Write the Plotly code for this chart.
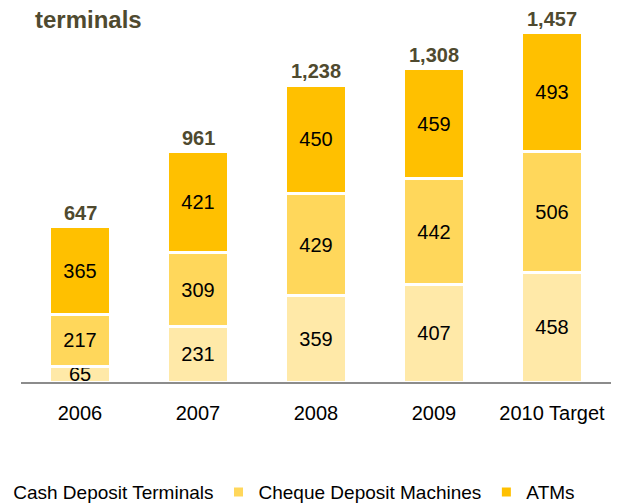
import plotly.graph_objects as go

# terminals by type, per year
years = ['2006', '2007', '2008', '2009', '2010 Target']
cash_deposit = [65, 231, 359, 407, 458]
cheque_deposit = [217, 309, 429, 442, 506]
atms = [365, 421, 450, 459, 493]
totals = [647, 961, 1238, 1308, 1457]

series = [
    ('Cash Deposit Terminals', cash_deposit, '#FFE9A8'),
    ('Cheque Deposit Machines', cheque_deposit, '#FFD75B'),
    ('ATMs', atms, '#FFC000'),
]

FONT = 'Liberation Sans, Arial, sans-serif'
DARK = '#4F4A2F'

# page body has an 8px margin, so the figure is 8px smaller each way
W, H = 616, 495

fig = go.Figure()

for name, vals, color in series:
    fig.add_trace(go.Bar(
        x=years, y=vals, name=name,
        marker=dict(color=color, line=dict(color='white', width=3)),
        text=vals, textposition='inside', insidetextanchor='middle',
        constraintext='none', cliponaxis=False,
        textfont=dict(family=FONT, size=20, color='black'),
    ))

# totals above each stack (x given as category index)
for i, tot in enumerate(totals):
    fig.add_annotation(
        x=i, y=tot, text=f'<b>{tot:,}</b>', showarrow=False,
        yanchor='bottom', yshift=1,
        font=dict(family=FONT, size=20, color=DARK),
    )

fig.update_layout(
    barmode='stack', bargap=0.49,
    width=W, height=H,
    margin=dict(l=13, r=13, t=12, b=121, autoexpand=False),
    paper_bgcolor='white', plot_bgcolor='white',
    font=dict(family=FONT, size=20, color='black'),
    title=dict(text='<b>terminals</b>', xref='container', yref='container',
               x=27 / W, y=1 - 12 / H, xanchor='left', yanchor='middle',
               font=dict(family=FONT, size=24, color=DARK)),
    xaxis=dict(type='category', range=[-0.5, len(years) - 0.5],
               showline=True, linecolor='#8C8C8C', linewidth=1.5,
               showgrid=False, ticks='', ticklabelstandoff=12,
               tickfont=dict(size=20, color='black')),
    yaxis=dict(visible=False, range=[0, 1511]),
    showlegend=True,
    legend=dict(orientation='h', x=-0.081, y=-0.304, xanchor='left', yanchor='middle',
                font=dict(family=FONT, size=19, color='black'),
                traceorder='normal', itemwidth=30),
)

fig.write_html('out.html')
